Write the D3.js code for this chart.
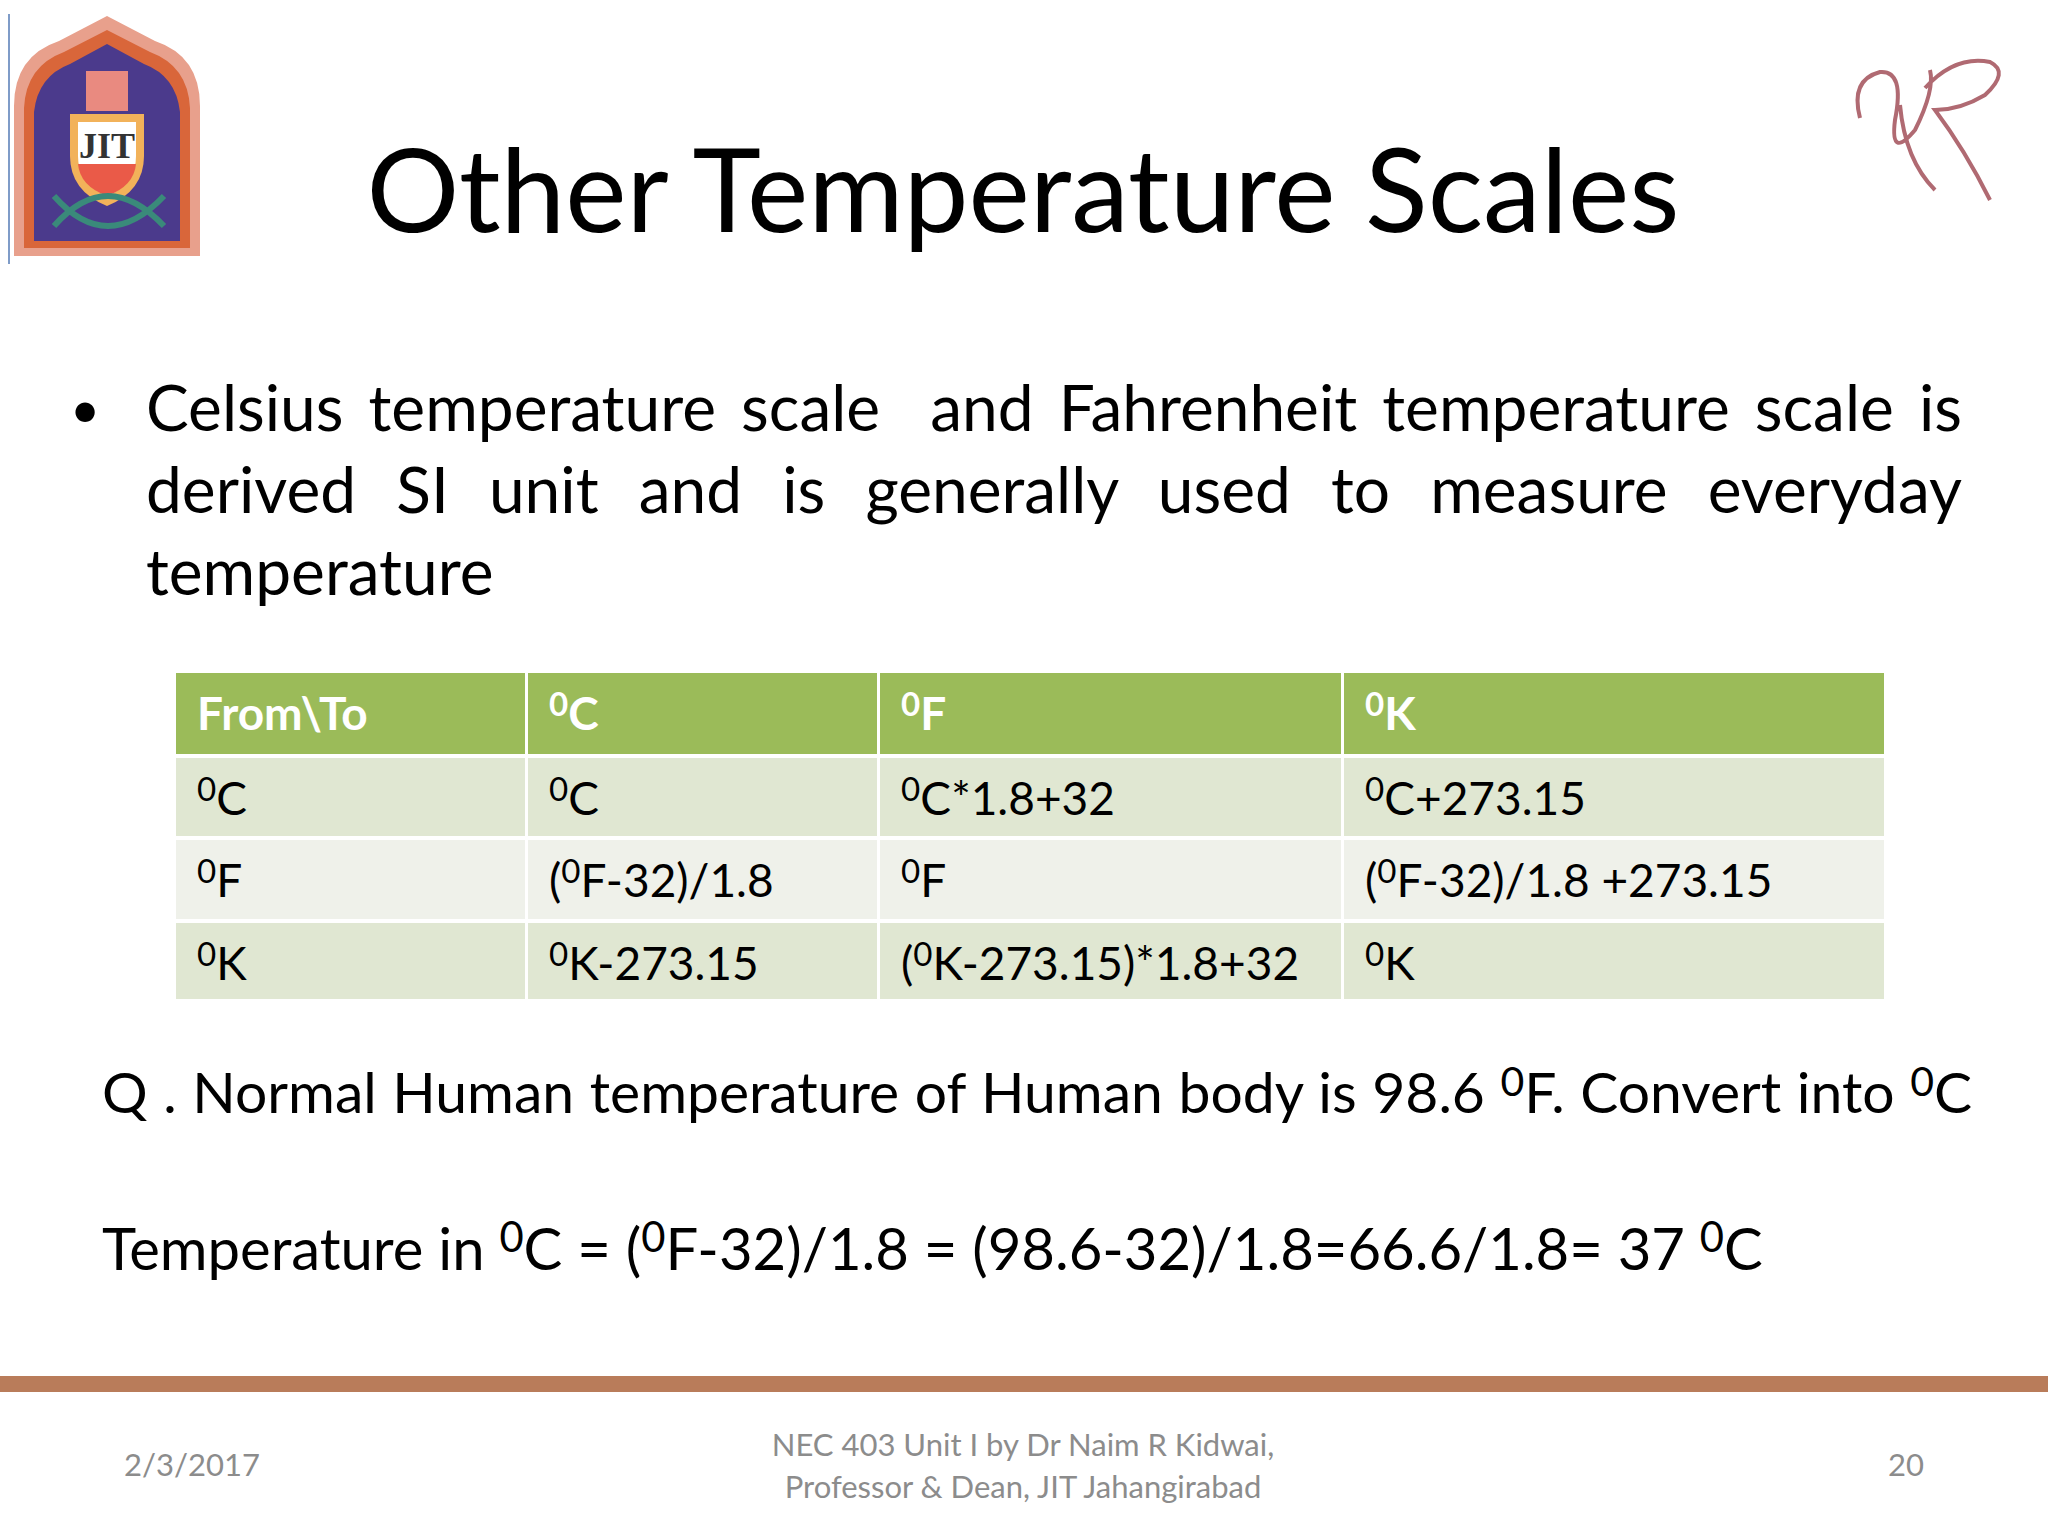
<!DOCTYPE html>
<html><head><meta charset="utf-8">
<script src="https://cdn.jsdelivr.net/npm/d3@7"></script>
<style>body{margin:0;background:#fff}svg{display:block}</style>
</head><body>
<svg id="s" width="2048" height="1536"></svg>
<script>
const title = "Other Temperature Scales";
const bulletLines = ["Celsius temperature scale  and Fahrenheit temperature scale is","derived SI unit and is generally used to measure everyday","temperature"];
const headers = ["From\\To","^0C","^0F","^0K"];
const rows = [
  ["^0C","^0C","^0C*1.8+32","^0C+273.15"],
  ["^0F","(^0F-32)/1.8","^0F","(^0F-32)/1.8 +273.15"],
  ["^0K","^0K-273.15","(^0K-273.15)*1.8+32","^0K"]
];
const question = "Q . Normal Human temperature of Human body is 98.6 ^0F. Convert into ^0C";
const answer = "Temperature in ^0C = (^0F-32)/1.8 = (98.6-32)/1.8=66.6/1.8= 37 ^0C";
const footLeft = "2/3/2017", footCenter = ["NEC 403 Unit I by Dr Naim R Kidwai,","Professor & Dean, JIT Jahangirabad"], footRight = "20";

const svg = d3.select("#s");
const F = "Lato, 'Open Sans', sans-serif";

function rich(sel, str){
  const parts = str.split("^0");
  parts.forEach((p,i)=>{
    if(i>0) sel.append("tspan").attr("baseline-shift","42%").attr("font-size","72%").text("0");
    if(p.length) sel.append("tspan").attr("baseline-shift","0").text(p);
  });
}
function justify(t, width){
  const txt = t.text();
  const gaps = (txt.match(/ /g)||[]).length;
  const w = t.node().getComputedTextLength();
  if(gaps) t.attr("word-spacing",(width-w)/gaps);
}

svg.append("rect").attr("x",8).attr("y",14).attr("width",2).attr("height",250).attr("fill","#7f9cc8");
const lg = svg.append("g").attr("transform","translate(14,16)");
lg.append("path").attr("d","M0,240 L0,90 Q0,40 45,25 L93,0 L141,25 Q186,40 186,90 L186,240 Z").attr("fill","#e8a08c");
lg.append("path").attr("d","M10,232 L10,92 Q12,50 50,36 L93,14 L136,36 Q174,50 176,92 L176,232 Z").attr("fill","#d9663a");
lg.append("path").attr("d","M20,225 L20,96 Q24,60 56,48 L93,28 L130,48 Q162,60 166,96 L166,225 Z").attr("fill","#4b3a8c");
lg.append("rect").attr("x",72).attr("y",55).attr("width",42).attr("height",40).attr("fill","#e98a80");
lg.append("path").attr("d","M56,98 L130,98 L130,140 Q130,175 93,190 Q56,175 56,140 Z").attr("fill","#f2b25a");
lg.append("path").attr("d","M64,106 L122,106 L122,140 Q122,168 93,180 Q64,168 64,140 Z").attr("fill","#fff");
lg.append("path").attr("d","M64,148 L122,148 Q120,170 93,180 Q66,170 64,148 Z").attr("fill","#ea5a48");
lg.append("text").attr("x",93).attr("y",142).attr("text-anchor","middle").attr("font-family","serif").attr("font-weight","bold").attr("font-size",36).attr("fill","#333").text("JIT");
lg.append("path").attr("d","M40,210 Q93,150 150,210 M40,180 Q93,240 150,180").attr("fill","none").attr("stroke","#3a8a7a").attr("stroke-width",6);
svg.append("path").attr("d","M1860,118 Q1850,80 1880,72 Q1905,70 1895,120 Q1890,160 1915,130 Q1935,90 1930,70 M1925,88 Q1955,55 1990,62 Q2010,72 1985,95 Q1960,110 1935,110 Q1965,150 1990,200 M1900,105 Q1905,160 1935,190")
  .attr("fill","none").attr("stroke","#b06a72").attr("stroke-width",4);

svg.append("text").attr("x",1023).attr("y",232).attr("text-anchor","middle").attr("font-family",F).attr("font-size",116).attr("fill","#000").text(title);

svg.append("text").attr("x",70).attr("y",428).attr("font-family",F).attr("font-size",52).text("•");
bulletLines.forEach((l,i)=>{
  const t = svg.append("text").attr("x",146).attr("y",431+i*82).attr("font-family",F).attr("font-size",64).attr("fill","#000").attr("xml:space","preserve").style("white-space","pre").text(l);
  if(i<2) justify(t,1816);
});

const colX = [176,528,880,1344,1887];
const rowY = [673,758,840,923,1003];
const x = d3.scaleOrdinal().domain([0,1,2,3]).range(colX.slice(0,4));
const fills = ["#9bbb59","#e0e7d2","#eff1ea","#e0e7d2"];
const allRows = [headers, ...rows];
allRows.forEach((r,ri)=>{
  r.forEach((c,ci)=>{
    svg.append("rect").attr("x",colX[ci]).attr("y",rowY[ri]).attr("width",colX[ci+1]-colX[ci]-3).attr("height",rowY[ri+1]-rowY[ri]-4).attr("fill",fills[ri]);
    const t = svg.append("text").attr("x",x(ci)+21).attr("y",rowY[ri]+57).attr("font-family",F).attr("font-size",46)
      .attr("font-weight",ri===0?"bold":"normal").attr("fill",ri===0?"#fff":"#000");
    rich(t,c);
  });
});

const q = svg.append("text").attr("x",102).attr("y",1113).attr("font-family",F).attr("font-size",57);
rich(q,question);
{ const w=q.node().getComputedTextLength(); const g=(question.match(/ /g)||[]).length; q.attr("word-spacing",(1870-w)/g); }
const a = svg.append("text").attr("x",102).attr("y",1270).attr("font-family",F).attr("font-size",58);
rich(a,answer);

svg.append("rect").attr("x",0).attr("y",1376).attr("width",2048).attr("height",16).attr("fill","#b97c5a");

svg.append("text").attr("x",124).attr("y",1476).attr("font-family",F).attr("font-size",31).attr("fill","#8c8c8c").text(footLeft);
footCenter.forEach((l,i)=>svg.append("text").attr("x",1023).attr("y",1456+i*42).attr("text-anchor","middle").attr("font-family",F).attr("font-size",31).attr("fill","#8c8c8c").text(l));
svg.append("text").attr("x",1924).attr("y",1476).attr("text-anchor","end").attr("font-family",F).attr("font-size",31).attr("fill","#8c8c8c").text(footRight);
</script>
</body></html>
